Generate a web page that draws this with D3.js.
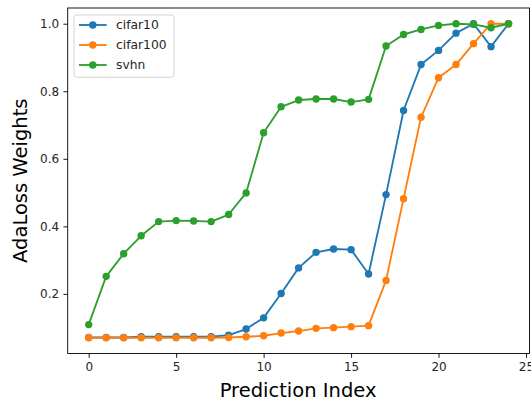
<!DOCTYPE html>
<html>
<head>
<meta charset="utf-8">
<script src="https://cdn.jsdelivr.net/npm/d3@7"></script>
<style>
  html, body { margin: 0; padding: 0; background: #fff; }
  svg { display: block; font-family: "DejaVu Sans", sans-serif; }
</style>
</head>
<body>
<div id="chart"></div>
<script>
// AdaLoss weight per prediction index for each dataset
const predictionIndex = d3.range(0, 25);
const cifar10 = [0.071, 0.071, 0.071, 0.073, 0.073, 0.073, 0.073, 0.073, 0.078, 0.096,
                 0.129, 0.201, 0.277, 0.323, 0.333, 0.331, 0.259, 0.494, 0.743, 0.879,
                 0.921, 0.972, 1.000, 0.932, 1.000];
const cifar100 = [0.070, 0.070, 0.070, 0.070, 0.070, 0.070, 0.070, 0.070, 0.071, 0.073,
                  0.076, 0.084, 0.090, 0.098, 0.100, 0.103, 0.106, 0.240, 0.482, 0.723,
                  0.840, 0.879, 0.941, 1.000, 1.000];
const svhn = [0.109, 0.252, 0.319, 0.372, 0.414, 0.417, 0.416, 0.414, 0.435, 0.499,
              0.677, 0.754, 0.774, 0.777, 0.777, 0.768, 0.776, 0.934, 0.968, 0.983,
              0.995, 1.000, 0.998, 0.988, 1.000];
const seriesNames = ["cifar10", "cifar100", "svhn"];
const seriesColors = ["#1f77b4", "#ff7f0e", "#2ca02c"];
const xTicks = [0, 5, 10, 15, 20, 25];
const yTicks = [0.2, 0.4, 0.6, 0.8, 1.0];

const series = [cifar10, cifar100, svhn].map((vals, i) => ({
  name: seriesNames[i],
  color: seriesColors[i],
  points: vals.map((v, j) => ({ x: predictionIndex[j], y: v }))
}));

const W = 531, H = 403;
const box = { left: 67.7, right: 529.5, top: 8, bottom: 353.5 };

const svg = d3.select("#chart").append("svg")
  .attr("width", W).attr("height", H);

// matplotlib-style 5% padding around the data extent
const xExt = d3.extent(predictionIndex);
const xPad = (xExt[1] - xExt[0]) * 0.05;
const allY = [].concat(cifar10, cifar100, svhn);
const yExt = d3.extent(allY);
const yPad = (yExt[1] - yExt[0]) * 0.05;

const x = d3.scaleLinear().domain([xExt[0] - xPad, xExt[1] + xPad]).range([box.left, box.right]);
const y = d3.scaleLinear().domain([yExt[0] - yPad, yExt[1] + yPad]).range([box.bottom, box.top]);

// axes
const xAxis = svg.append("g")
  .attr("transform", `translate(0,${box.bottom})`)
  .call(d3.axisBottom(x).tickValues(xTicks).tickFormat(d3.format("d")).tickSize(4.3).tickPadding(4.3));
const yAxis = svg.append("g")
  .attr("transform", `translate(${box.left},0)`)
  .call(d3.axisLeft(y).tickValues(yTicks).tickFormat(d3.format(".1f")).tickSize(4.3).tickPadding(4.3));

[xAxis, yAxis].forEach(g => {
  g.select(".domain").remove();
  g.selectAll(".tick line").attr("stroke", "#000").attr("stroke-width", 0.9);
  g.selectAll(".tick text").attr("fill", "#262626")
    .style("font-size", "12px").style("font-family", "'DejaVu Sans', sans-serif");
});

// series lines and markers, clipped to the plot frame
svg.append("clipPath").attr("id", "plotclip")
  .append("rect").attr("x", box.left).attr("y", box.top)
  .attr("width", box.right - box.left).attr("height", box.bottom - box.top);

const plot = svg.append("g").attr("clip-path", "url(#plotclip)");
const line = d3.line().x(d => x(d.x)).y(d => y(d.y));

series.forEach(s => {
  const g = plot.append("g");
  g.append("path").datum(s.points)
    .attr("d", line).attr("fill", "none")
    .attr("stroke", s.color).attr("stroke-width", 1.85)
    .attr("stroke-linejoin", "round").attr("stroke-linecap", "square");
  g.selectAll("circle").data(s.points).join("circle")
    .attr("cx", d => x(d.x)).attr("cy", d => y(d.y))
    .attr("r", 3.7).attr("fill", s.color);
});

// frame
svg.append("rect")
  .attr("x", box.left).attr("y", box.top)
  .attr("width", box.right - box.left).attr("height", box.bottom - box.top)
  .attr("fill", "none").attr("stroke", "#000").attr("stroke-width", 0.9);

// axis titles
svg.append("text")
  .attr("x", (box.left + box.right) / 2 - 0.5).attr("y", 396.5)
  .attr("text-anchor", "middle").attr("fill", "#000")
  .style("font-size", "19.5px")
  .text("Prediction Index");

svg.append("text")
  .attr("transform", `translate(26.5,${(box.top + box.bottom) / 2}) rotate(-90)`)
  .attr("text-anchor", "middle").attr("fill", "#000")
  .style("font-size", "19.5px")
  .text("AdaLoss Weights");

// legend
const legend = svg.append("g");
legend.append("rect")
  .attr("x", 74).attr("y", 15).attr("width", 100).attr("height", 62.3)
  .attr("rx", 2.5).attr("fill", "#fff").attr("fill-opacity", 0.8)
  .attr("stroke", "#d0d0d0").attr("stroke-width", 0.9);

series.forEach((s, i) => {
  const cy = 25 + i * 20;
  legend.append("line")
    .attr("x1", 79).attr("x2", 106.7).attr("y1", cy).attr("y2", cy)
    .attr("stroke", s.color).attr("stroke-width", 1.85);
  legend.append("circle")
    .attr("cx", 92.8).attr("cy", cy).attr("r", 3.7).attr("fill", s.color);
  legend.append("text")
    .attr("x", 116).attr("y", cy + 4.4)
    .attr("fill", "#262626").style("font-size", "12.3px")
    .text(s.name);
});
</script>
</body>
</html>
